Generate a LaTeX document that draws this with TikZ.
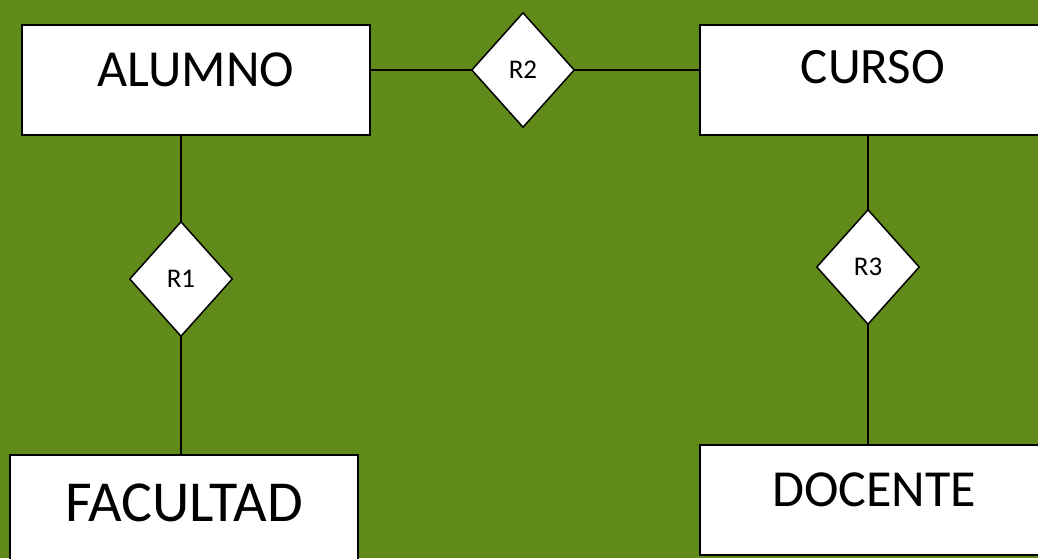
\documentclass[tikz,border=0pt]{standalone}
\usepackage{fontspec}
\setmainfont{Carlito}
\usetikzlibrary{shapes.geometric}
\definecolor{bggreen}{RGB}{96,139,26}
\begin{document}
\begin{tikzpicture}[x=1pt,y=-1pt,
  entity/.style={draw=black,fill=white,line width=2pt,rectangle,inner sep=0pt},
  relation/.style={draw=black,fill=white,line width=1.5pt,diamond,inner sep=0pt,
     minimum width=103pt,minimum height=115pt,font=\fontsize{27}{30}\selectfont},
  etext/.style={anchor=base,inner sep=0pt},
  conn/.style={draw=black,line width=1.5pt}]
\fill[bggreen] (0,0) rectangle (1038,558);
\useasboundingbox (0,0) rectangle (1038,558);
% boxes
\node[entity,minimum width=348pt,minimum height=110pt] (alumno) at (196,80) {};
\node[entity,minimum width=345pt,minimum height=110pt] (curso) at (872.5,80) {};
\node[entity,minimum width=348pt,minimum height=110pt] (facultad) at (184,510) {};
\node[entity,minimum width=345pt,minimum height=110pt] (docente) at (872.5,500) {};
% texts
\node[etext,font=\fontsize{52}{56}\selectfont] (talumno) at (196,86) {ALUMNO};
\node[etext,font=\fontsize{51}{56}\selectfont] (tcurso) at (873,83) {CURSO};
\node[etext,font=\fontsize{58}{62}\selectfont] (tfacultad) at (184,521) {FACULTAD};
\node[etext,font=\fontsize{52}{56}\selectfont] (tdocente) at (874,506) {DOCENTE};
% relation positions
\coordinate (r1c) at (181,279);
\coordinate (r2c) at (523,70);
\coordinate (r3c) at (868,267);
% connectors
\draw[conn] (alumno.east |- r2c) -- (curso.west |- r2c);
\draw[conn] (alumno.south -| r1c) -- (facultad.north -| r1c);
\draw[conn] (curso.south -| r3c) -- (docente.north -| r3c);
% relations
\node[relation] (r1) at (r1c) {R1};
\node[relation] (r2) at (r2c) {R2};
\node[relation] (r3) at (r3c) {R3};
\end{tikzpicture}
\end{document}
